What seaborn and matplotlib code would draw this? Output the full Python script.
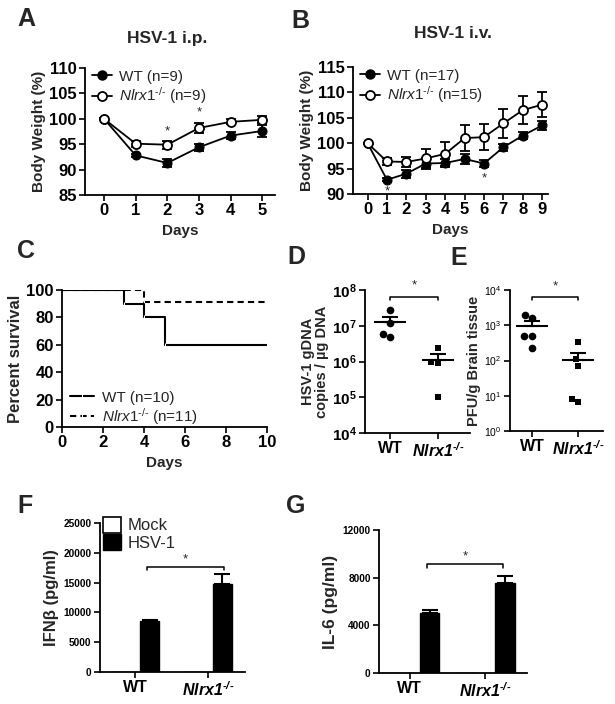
import numpy as np
import pandas as pd
import matplotlib
matplotlib.use("Agg")
import matplotlib.pyplot as plt
import seaborn as sns
from matplotlib.patches import Patch
from matplotlib.lines import Line2D

# ===== Data =====
# A: body weight after HSV-1 i.p.
days_ip = [0, 1, 2, 3, 4, 5]
wt_ip = [100, 92.8, 91.3, 94.4, 96.7, 97.6]
wt_ip_sem = [0.1, 0.3, 0.8, 0.7, 0.7, 1.1]
ko_ip = [100, 95.1, 94.9, 98.2, 99.4, 99.8]
ko_ip_sem = [0.1, 0.6, 0.8, 1.0, 0.5, 0.7]
star_days_ip = [2, 3]
star_y_ip = [97.6, 101.2]

# B: body weight after HSV-1 i.v.
days_iv = [0, 1, 2, 3, 4, 5, 6, 7, 8, 9]
wt_iv = [100, 92.8, 94.0, 96.0, 96.1, 96.9, 96.0, 99.2, 101.5, 103.5]
wt_iv_sem = [0.1, 0.3, 0.8, 1.0, 0.8, 1.0, 0.7, 0.7, 0.7, 0.9]
ko_iv = [100, 96.4, 96.3, 97.0, 97.9, 101.0, 101.2, 103.9, 106.5, 107.6]
ko_iv_sem = [0.1, 0.6, 1.0, 1.8, 2.4, 2.6, 2.6, 2.9, 2.7, 2.4]
star_days_iv = [1, 6]
star_y_iv = [90.6, 93.1]

# C: survival
surv_wt_days = [0, 3, 4, 5, 10]
surv_wt = [100, 90, 80, 60, 60]
surv_ko_days = [0, 4, 10]
surv_ko = [100, 90.9, 90.9]

# D / E: viral load
dna_wt = [2.7e7, 1.2e7, 5.7e6, 4.7e6]
dna_ko = [2.4e6, 1.0e6, 0.9e6, 1.0e5]
pfu_wt = [1650, 2000, 490, 480, 220]
pfu_ko = [330, 112, 72, 6.6, 8.3]

# F / G: cytokines
genotypes = ["WT", "Nlrx1"]
conditions = ["Mock", "HSV-1"]
ifnb_mock = [0, 0]
ifnb_hsv = [8600, 14800]
ifnb_hsv_sem = [180, 1700]
il6_mock = [0, 0]
il6_hsv = [5000, 7580]
il6_hsv_sem = [250, 600]

ko_label = "$\\mathit{Nlrx1}^{\\mathit{\u2010/\u2010}}$"
ko_tick = "$\\mathbf{Nlrx1^{\u2010/\u2010}}$"

# ===== Style =====
sns.set_style("ticks")
plt.rcParams["font.family"] = ["Liberation Sans", "DejaVu Sans"]
plt.rcParams["mathtext.fontset"] = "custom"
plt.rcParams["mathtext.rm"] = "Liberation Sans"
plt.rcParams["mathtext.it"] = "Liberation Sans:italic"
plt.rcParams["mathtext.bf"] = "Liberation Sans:italic:bold"
plt.rcParams["mathtext.sf"] = "Liberation Sans:bold"

W, H = 615, 704
fig = plt.figure(figsize=(W / 100, H / 100), dpi=100)


def add_ax(l, r, t, b):
    return fig.add_axes([l / W, 1 - b / H, (r - l) / W, (b - t) / H])


def style_ax(ax, size=10, bold=True):
    sns.despine(ax=ax)
    for s in ["left", "bottom"]:
        ax.spines[s].set_linewidth(1.3)
        ax.spines[s].set_color("black")
    ax.tick_params(direction="out", length=4, width=1.2, colors="black",
                   labelsize=size, pad=2)
    ax.minorticks_off()
    if bold:
        for lab in ax.get_xticklabels() + ax.get_yticklabels():
            lab.set_fontweight("bold")


def weight_panel(ax, days, wt, wt_sem, ko, ko_sem, n_wt, n_ko):
    df = pd.DataFrame({"day": days + days, "w": wt + ko,
                       "g": ["WT"] * len(days) + ["KO"] * len(days)})
    ax.errorbar(days, wt, yerr=wt_sem, fmt="none", ecolor="black",
                elinewidth=1.3, capsize=3.5, capthick=1.3, zorder=2)
    ax.errorbar(days, ko, yerr=ko_sem, fmt="none", ecolor="black",
                elinewidth=1.3, capsize=3.5, capthick=1.3, zorder=2)
    sns.lineplot(data=df[df.g == "WT"], x="day", y="w", ax=ax, color="black",
                 lw=1.3, marker="o", markersize=6.5, markerfacecolor="black",
                 markeredgecolor="black", zorder=3)
    sns.lineplot(data=df[df.g == "KO"], x="day", y="w", ax=ax, color="black",
                 lw=1.3, marker="o", markersize=6.5, markerfacecolor="white",
                 markeredgecolor="black", markeredgewidth=1.3, zorder=4)
    h = [Line2D([], [], color="black", lw=1.3, marker="o", markersize=6.5,
                markerfacecolor="black"),
         Line2D([], [], color="black", lw=1.3, marker="o", markersize=6.5,
                markerfacecolor="white", markeredgewidth=1.3)]
    ax.legend(h, [f"WT (n={n_wt})", ko_label + f" (n={n_ko})"],
              loc="upper left", bbox_to_anchor=(-0.02, 1.07), frameon=False,
              fontsize=11, handlelength=1.3, handletextpad=0.5,
              labelspacing=0.1, borderpad=0.2)
    ax.set_xlabel("Days", fontsize=11, fontweight="bold", labelpad=4)
    ax.set_ylabel("Body Weight (%)", fontsize=11, fontweight="bold", labelpad=2)


# ----- A -----
axA = add_ax(85, 275, 68, 195)
weight_panel(axA, days_ip, wt_ip, wt_ip_sem, ko_ip, ko_ip_sem, 9, 9)
axA.set_xlim(-0.6, 5.4)
axA.set_ylim(85, 110)
axA.set_xticks(days_ip)
axA.set_yticks(range(85, 111, 5))
for d, y in zip(star_days_ip, star_y_ip):
    axA.text(d, y, "*", ha="center", va="center", fontsize=9.5)
style_ax(axA, 12)

# ----- B -----
axB = add_ax(353, 548, 67, 194)
weight_panel(axB, days_iv, wt_iv, wt_iv_sem, ko_iv, ko_iv_sem, 17, 15)
axB.set_xlim(-0.75, 9.3)
axB.set_ylim(90, 115)
axB.set_xticks(days_iv)
axB.set_yticks(range(90, 116, 5))
for d, y in zip(star_days_iv, star_y_iv):
    axB.text(d, y, "*", ha="center", va="center", fontsize=9.5)
style_ax(axB, 12)

# ----- C -----
axC = add_ax(62, 267, 290, 427)
sns.lineplot(x=surv_ko_days, y=surv_ko, ax=axC, color="black", lw=1.5,
             ls=(0, (3, 2)), drawstyle="steps-post", marker="|",
             markersize=3.5, markevery=list(range(1, len(surv_ko_days))),
             label=ko_label + " (n=11)")
sns.lineplot(x=surv_wt_days, y=surv_wt, ax=axC, color="black", lw=1.5,
             drawstyle="steps-post", marker="|", markersize=3.5,
             markevery=list(range(1, len(surv_wt_days))), label="WT (n=10)")
hC, lC = axC.get_legend_handles_labels()
axC.legend(hC[::-1], lC[::-1], loc="lower left", bbox_to_anchor=(-0.03, -0.1),
           frameon=False, fontsize=11, handlelength=1.6, handletextpad=0.5,
           labelspacing=0.1)
axC.set_xlim(0, 10)
axC.set_ylim(0, 100)
axC.set_xticks(range(0, 11, 2))
axC.set_yticks(range(0, 101, 20))
axC.set_xlabel("Days", fontsize=11, fontweight="bold", labelpad=4)
axC.set_ylabel("Percent survival", fontsize=12, fontweight="bold", labelpad=2)
style_ax(axC, 12)


def dot_panel(ax, wt_vals, ko_vals, size):
    df = pd.DataFrame({"g": ["WT"] * len(wt_vals) + ["KO"] * len(ko_vals),
                       "v": wt_vals + ko_vals})
    ax.set_yscale("log")
    sns.swarmplot(data=df[df.g == "WT"], x="g", y="v", order=["WT", "KO"],
                  ax=ax, color="black", marker="o", size=size)
    sns.swarmplot(data=df[df.g == "KO"], x="g", y="v", order=["WT", "KO"],
                  ax=ax, color="black", marker="s", size=size - 0.5)
    for i, vals in enumerate([wt_vals, ko_vals]):
        m = np.mean(vals)
        sem = np.std(vals, ddof=1) / np.sqrt(len(vals))
        ax.hlines(m, i - 0.34, i + 0.34, color="black", lw=1.5, zorder=5)
        ax.errorbar(i, m, yerr=[[0], [sem]], fmt="none", ecolor="black",
                    elinewidth=1.5, capsize=5.5, capthick=1.5, zorder=5)
    ax.set_xlabel("")


def bracket(ax, x0, x1, y, ytick, ystar, fs=9.5):
    ax.plot([x0, x0, x1, x1], [ytick, y, y, ytick], color="black", lw=1.1,
            clip_on=False)
    ax.text((x0 + x1) / 2, ystar, "*", ha="center", va="center", fontsize=fs)


# ----- D -----
axD = add_ax(365, 470, 290, 433)
dot_panel(axD, dna_wt, dna_ko, 5.5)
axD.set_xlim(-0.52, 1.67)
axD.set_ylim(1e4, 1e8)
axD.set_yticks([1e4, 1e5, 1e6, 1e7, 1e8])
axD.set_yticklabels([f"10$^{{\\mathsf{{{e}}}}}$" for e in range(4, 9)])
axD.set_xticklabels(["WT", ko_tick])
axD.set_ylabel("HSV-1 gDNA\ncopies / \u00b5g DNA", fontsize=10.5,
               fontweight="bold", labelpad=2, linespacing=1.0)
bracket(axD, 0, 1, 6.3e7, 5.2e7, 1.3e8)
style_ax(axD, 11)
for lab in axD.get_xticklabels():
    lab.set_fontsize(11.5)

# ----- E -----
axE = add_ax(510, 603, 290, 431)
dot_panel(axE, pfu_wt, pfu_ko, 5.5)
axE.set_xlim(-0.48, 1.54)
axE.set_ylim(1, 1e4)
axE.set_yticks([1, 10, 100, 1e3, 1e4])
axE.set_yticklabels([f"10$^{{{e}}}$" for e in range(0, 5)])
axE.set_xticklabels(["WT", ko_tick])
axE.set_ylabel("PFU/g Brain tissue", fontsize=10.5, fontweight="bold",
               labelpad=2)
bracket(axE, 0, 1, 6.3e3, 5.2e3, 1.3e4)
style_ax(axE, 7.5, bold=False)
for lab in axE.get_xticklabels():
    lab.set_fontsize(11.5)
    lab.set_fontweight("bold")


def bar_panel(ax, mock, hsv, hsv_sem, width, gap):
    df = pd.DataFrame({"geno": genotypes * 2,
                       "cond": ["Mock"] * 2 + ["HSV-1"] * 2,
                       "val": mock + hsv})
    sns.barplot(data=df, x="geno", y="val", hue="cond", hue_order=conditions,
                palette={"Mock": "white", "HSV-1": "black"}, edgecolor="black",
                linewidth=1, errorbar=None, width=width, gap=gap, ax=ax,
                legend=False)
    xs = [p.get_x() + p.get_width() / 2 for p in ax.containers[1]]
    ax.errorbar(xs, hsv, yerr=[[0] * len(hsv), hsv_sem], fmt="none",
                ecolor="black", elinewidth=1.5, capsize=6, capthick=1.5)
    ax.set_xlabel("")
    ax.set_xticks([0, 1])
    ax.set_xticklabels(["WT", ko_tick])
    return xs


# ----- F -----
axF = add_ax(100, 245, 523, 672)
xsF = bar_panel(axF, ifnb_mock, ifnb_hsv, ifnb_hsv_sem, 0.8, 0.35)
axF.set_xlim(-0.48, 1.51)
axF.set_ylim(0, 25000)
axF.set_yticks(range(0, 25001, 5000))
axF.set_ylabel("IFN\u03b2 (pg/ml)", fontsize=12, fontweight="bold", labelpad=3)
bracket(axF, xsF[0] - 0.03, xsF[1] + 0.02, 17700, 17100, 18900)
axF.legend([Patch(facecolor="white", edgecolor="black", lw=1.2),
            Patch(facecolor="black", edgecolor="black")],
           conditions, loc="upper left", bbox_to_anchor=(-0.05, 1.11),
           frameon=False, fontsize=12, handlelength=1.1, handleheight=1.1,
           handletextpad=0.4, labelspacing=0.05, borderpad=0.1)
style_ax(axF, 7.3)
for lab in axF.get_xticklabels():
    lab.set_fontsize(11.5)

# ----- G -----
axG = add_ax(379, 527, 530, 673)
xsG = bar_panel(axG, il6_mock, il6_hsv, il6_hsv_sem, 1.05, 0.5)
axG.set_xlim(-0.41, 1.56)
axG.set_ylim(0, 12000)
axG.set_yticks(range(0, 12001, 4000))
axG.set_ylabel("IL-6 (pg/ml)", fontsize=12.5, fontweight="bold", labelpad=3)
bracket(axG, xsG[0] - 0.03, xsG[1] - 0.02, 9140, 8780, 9800)
style_ax(axG, 7.3)
for lab in axG.get_xticklabels():
    lab.set_fontsize(11.5)

# ===== Panel labels and titles =====
for lab, x, y in [("A", 26, 19), ("B", 300, 21), ("C", 26, 251),
                  ("D", 296, 257), ("E", 459, 258), ("F", 25, 506),
                  ("G", 296, 506)]:
    fig.text(x / W, 1 - y / H, lab, fontsize=18, fontweight="bold",
             ha="center", va="center")
fig.text(167 / W, 1 - 38 / H, "HSV-1 i.p.", fontsize=12.5, fontweight="bold",
         ha="center", va="center")
fig.text(453 / W, 1 - 33 / H, "HSV-1 i.v.", fontsize=12.5, fontweight="bold",
         ha="center", va="center")

fig.savefig("out.png", dpi=100, facecolor="white")
